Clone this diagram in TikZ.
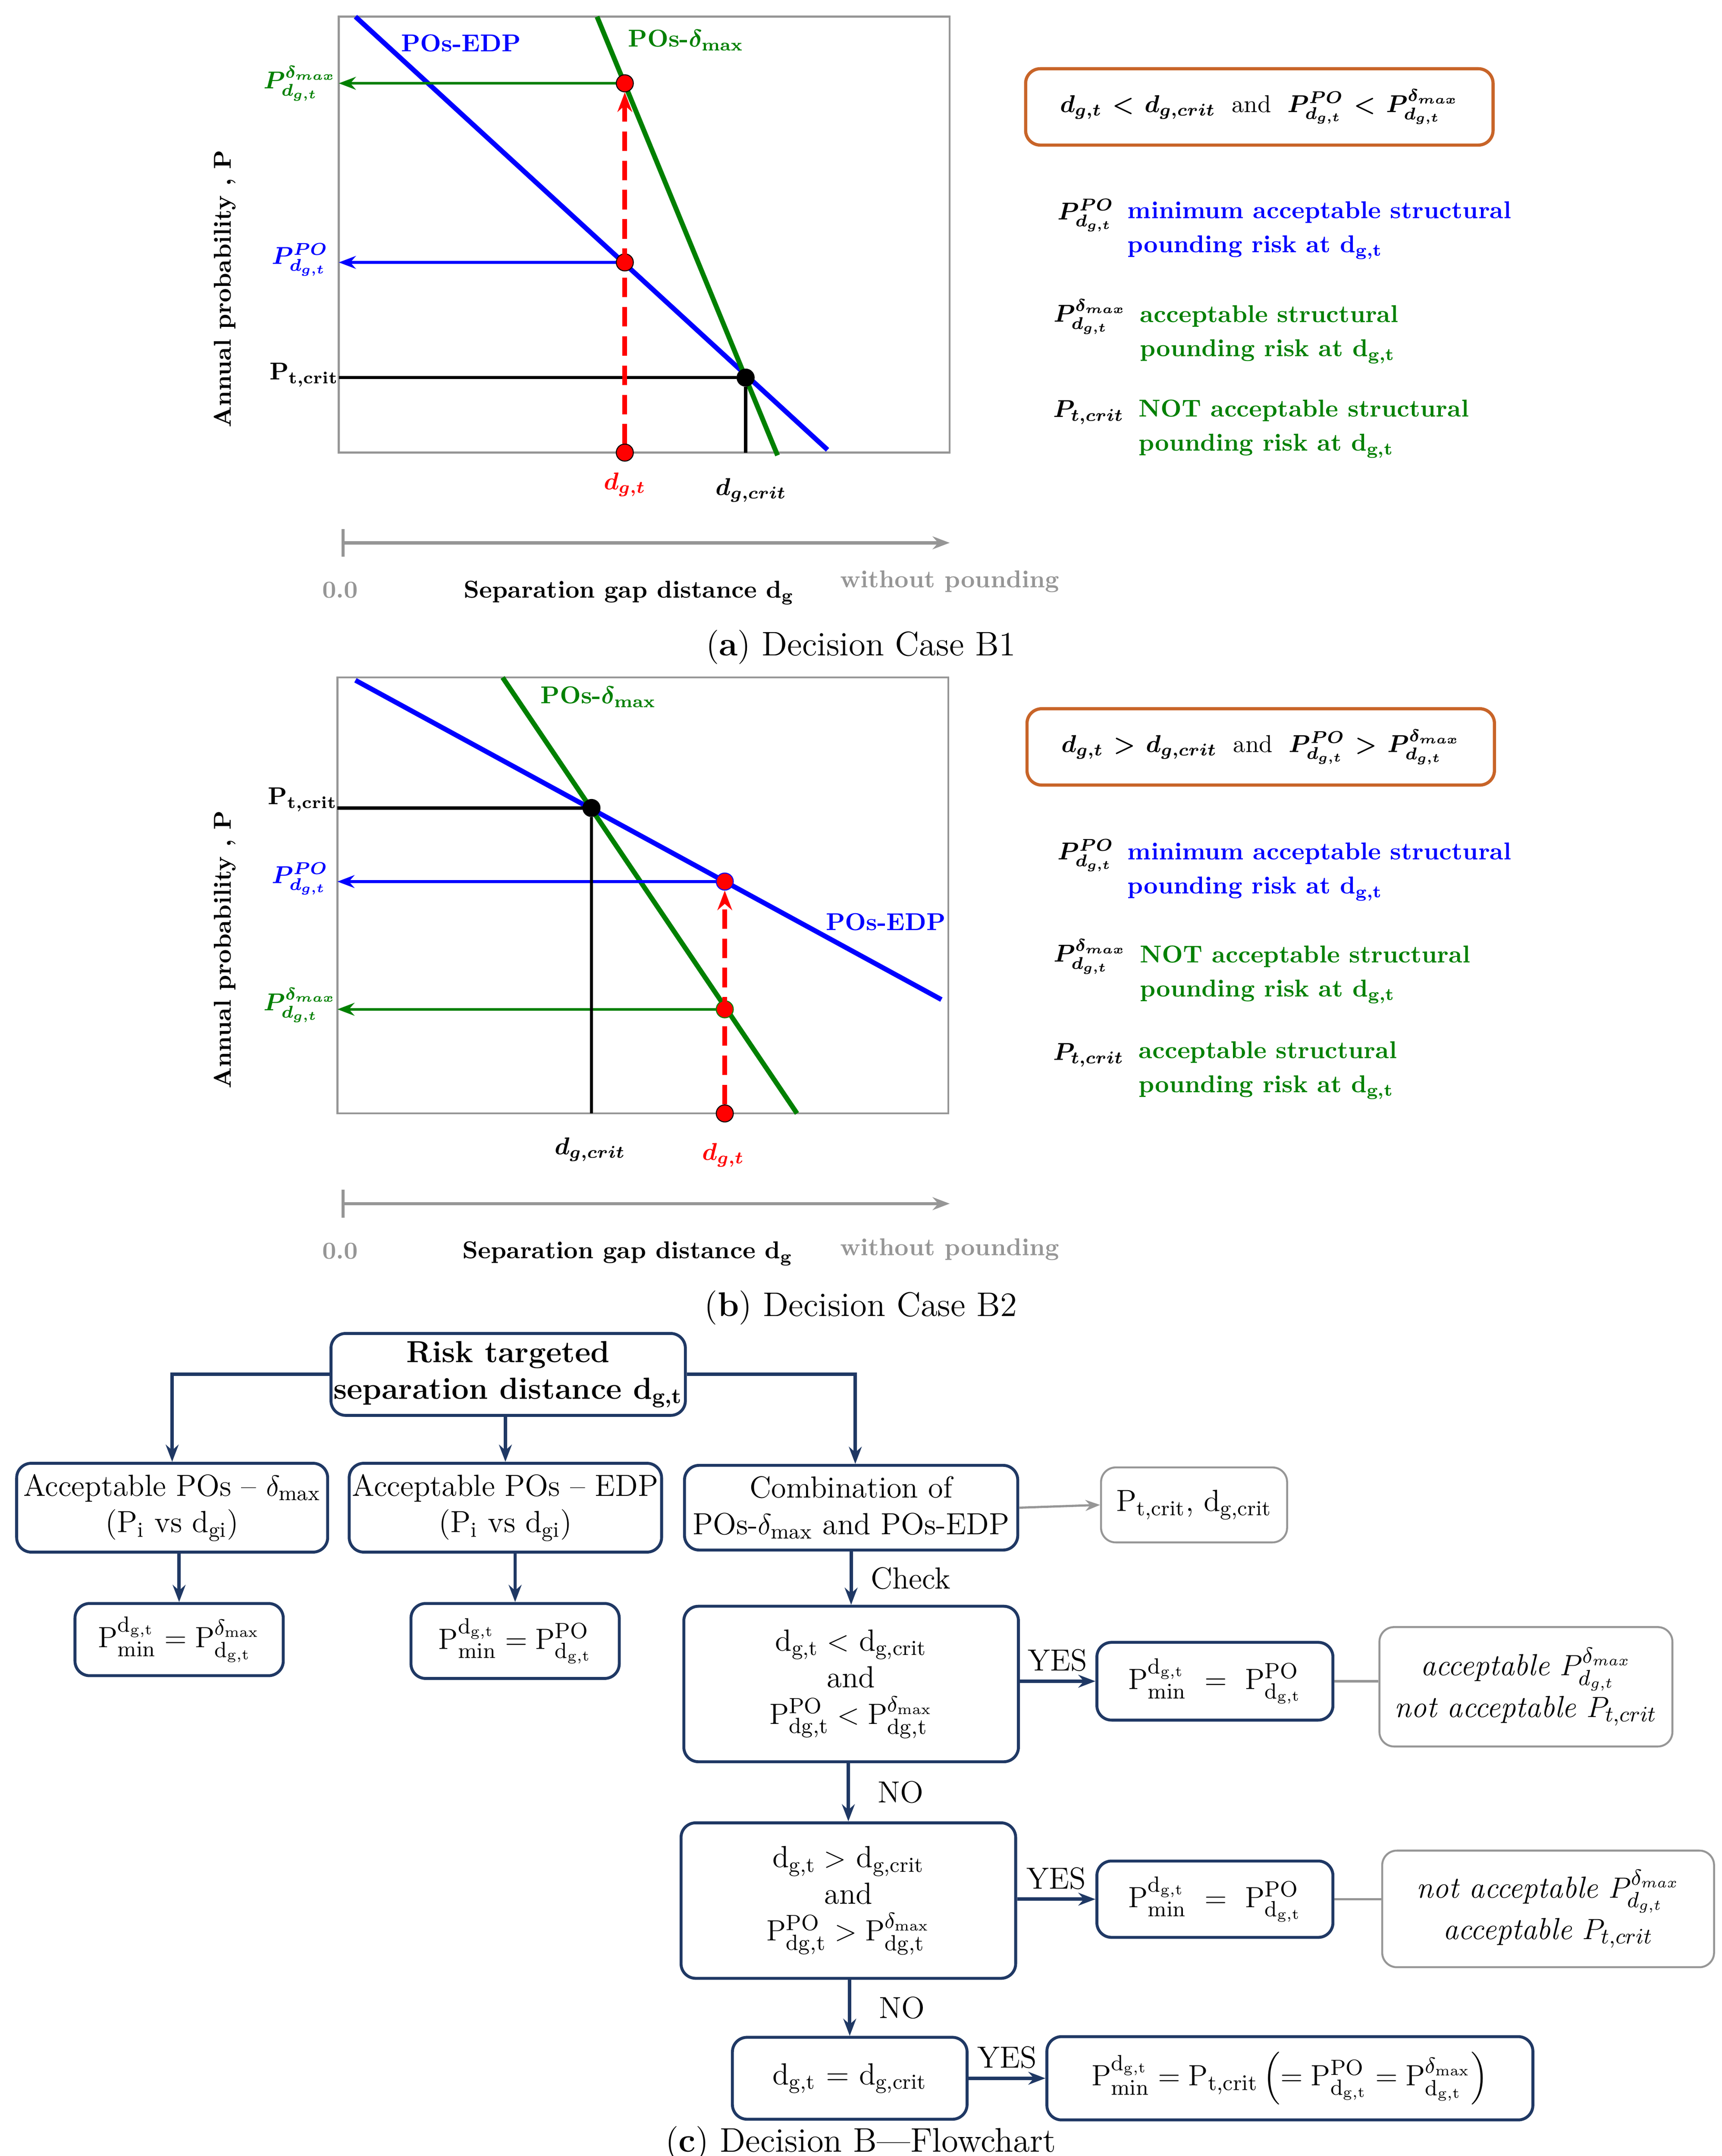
\documentclass[tikz,border=0pt]{standalone}
\usepackage{amsmath,bm}
\usetikzlibrary{arrows.meta}
\definecolor{pblue}{RGB}{0,0,255}
\definecolor{pgreen}{RGB}{0,128,0}
\definecolor{pred}{RGB}{255,0,0}
\definecolor{navy}{RGB}{31,56,100}
\definecolor{orng}{RGB}{200,100,40}
\definecolor{lgray}{RGB}{150,150,150}
\tikzset{
  curve/.style={line width=2pt},
  harrow/.style={line width=1.1pt,-{Stealth[length=7pt]}},
  dot/.style={circle,draw=black,inner sep=0pt,minimum size=7pt},
  lab/.style={font=\fontsize{10}{12}\selectfont\bfseries},
  captxt/.style={font=\fontsize{14}{16}\selectfont},
  fbox/.style={draw=navy,line width=1.2pt,rounded corners=6pt,align=center,font=\fontsize{12.5}{15}\selectfont,inner sep=1pt},
  gbox/.style={draw=lgray,line width=0.8pt,rounded corners=6pt,align=center,font=\fontsize{12.5}{15}\selectfont,inner sep=1pt},
  flow/.style={draw=navy,line width=1.4pt,-{Stealth[length=7pt]}},
  ftxt/.style={font=\fontsize{12.5}{15}\selectfont},
  rdash/.style={pred,line width=2pt,dash pattern=on 8pt off 4pt,-{Stealth[length=8pt]}}
}
\begin{document}
\begin{tikzpicture}[x=0.02cm,y=-0.02cm]
\useasboundingbox (0,0) rectangle (1240,1553);
% ---------------- panel (a)
\draw[lgray,line width=0.8pt] (244,12) rectangle (684,326);
\coordinate (a1) at (256,12); \coordinate (a2) at (596,324);
\coordinate (g1) at (430,12); \coordinate (g2) at (560,328);
\draw[pblue,curve] (a1) -- (a2);
\draw[pgreen,curve] (g1) -- (g2);
\coordinate (aL1) at (244,60); \coordinate (aL2) at (244,189); \coordinate (aL3) at (244,272);
\coordinate (aB) at (537,326);
\node[dot,fill=black] (ax) at (537,272) {};
\node[dot,fill=pred] (ag) at (450,60) {};
\node[dot,fill=pred] (ab) at (450,189) {};
\node[dot,fill=pred] (ar) at (450,326) {};
\draw[pgreen,harrow] (ag) -- (aL1);
\draw[pblue,harrow] (ab) -- (aL2);
\draw[black,line width=1.3pt] (aL3) -- (ax) -- (aB);
\draw[rdash] (ar) -- (ag);
\node[lab,pblue] at (332,31) {POs-EDP};
\node[lab,pgreen] at (494,29) {POs-$\bm{\delta}_{\mathbf{max}}$};
\node[lab,pgreen] at (216,60) {$\bm{P^{\delta_{max}}_{d_{g,t}}}$};
\node[lab,pblue] at (216,187) {$\bm{P^{PO}_{d_{g,t}}}$};
\node[lab] at (219,270) {P$_{\text{t,crit}}$};
\node[lab,pred] at (450,349) {$\bm{d_{g,t}}$};
\node[lab] at (541,353) {$\bm{d_{g,crit}}$};
\node[lab,rotate=90] at (162,208) {Annual probability , P};
\coordinate (ax0) at (247,391); \coordinate (ax1) at (684,391);
\draw[lgray,line width=1.3pt,-{Stealth[length=7pt]}] (ax0) -- (ax1);
\draw[lgray,line width=1.3pt] (247,381) -- (247,401);
\node[lab,lgray] at (245,425) {0.0};
\node[lab] at (453,427) {Separation gap distance d$_{\text{g}}$};
\node[lab,lgray] at (684,419) {without pounding};
\node[captxt] at (620,466) {(\textbf{a}) Decision Case B1};
\node[draw=orng,line width=1.3pt,rounded corners=6pt,lab,minimum height=1.1cm,text width=6.5cm,align=center] (ka) at (907,77)
  {$\bm{d_{g,t}<d_{g,crit}}$ \ \mdseries and \ $\bm{P^{PO}_{d_{g,t}}<P^{\delta_{max}}_{d_{g,t}}}$};
\node[lab] at (782,155) {$\bm{P^{PO}_{d_{g,t}}}$};
\node[lab,pblue,anchor=west,align=left] at (806,166) {minimum acceptable structural\\[2pt] pounding risk at d$_{\text{g,t}}$};
\node[lab] at (785,228) {$\bm{P^{\delta_{max}}_{d_{g,t}}}$};
\node[lab,pgreen,anchor=west,align=left] at (815,241) {acceptable structural\\[2pt] pounding risk at d$_{\text{g,t}}$};
\node[lab] at (784,297) {$\bm{P_{t,crit}}$};
\node[lab,pgreen,anchor=west,align=left] at (814,309) {NOT acceptable structural\\[2pt] pounding risk at d$_{\text{g,t}}$};
% ---------------- panel (b)
\draw[lgray,line width=0.8pt] (243,488) rectangle (683,802);
\coordinate (b1) at (256,490); \coordinate (b2) at (678,720);
\coordinate (h1) at (362,488); \coordinate (h2) at (574,802);
\draw[pblue,curve] (b1) -- (b2);
\draw[pgreen,curve] (h1) -- (h2);
\coordinate (bL1) at (243,582); \coordinate (bL2) at (243,635); \coordinate (bL3) at (243,727);
\coordinate (bB) at (426,802);
\node[dot,fill=black] (bx) at (426,582) {};
\node[dot,fill=pred,draw=pblue] (bb) at (522,635) {};
\node[dot,fill=pred,draw=pgreen] (bg) at (522,727) {};
\node[dot,fill=pred] (br) at (522,802) {};
\draw[pblue,harrow] (bb) -- (bL2);
\draw[pgreen,harrow] (bg) -- (bL3);
\draw[black,line width=1.3pt] (bL1) -- (bx) -- (bB);
\draw[rdash] (br) -- (bb);
\node[lab,pgreen] at (431,502) {POs-$\bm{\delta}_{\mathbf{max}}$};
\node[lab,pblue] at (638,664) {POs-EDP};
\node[lab] at (218,576) {P$_{\text{t,crit}}$};
\node[lab,pblue] at (216,633) {$\bm{P^{PO}_{d_{g,t}}}$};
\node[lab,pgreen] at (216,724) {$\bm{P^{\delta_{max}}_{d_{g,t}}}$};
\node[lab] at (425,828) {$\bm{d_{g,crit}}$};
\node[lab,pred] at (521,832) {$\bm{d_{g,t}}$};
\node[lab,rotate=90] at (162,684) {Annual probability , P};
\coordinate (bx0) at (247,867); \coordinate (bx1) at (684,867);
\draw[lgray,line width=1.3pt,-{Stealth[length=7pt]}] (bx0) -- (bx1);
\draw[lgray,line width=1.3pt] (247,857) -- (247,877);
\node[lab,lgray] at (245,901) {0.0};
\node[lab] at (452,903) {Separation gap distance d$_{\text{g}}$};
\node[lab,lgray] at (684,900) {without pounding};
\node[captxt] at (620,942) {(\textbf{b}) Decision Case B2};
\node[draw=orng,line width=1.3pt,rounded corners=6pt,lab,minimum height=1.1cm,text width=6.5cm,align=center] (kb) at (908,538)
  {$\bm{d_{g,t}>d_{g,crit}}$ \ \mdseries and \ $\bm{P^{PO}_{d_{g,t}}>P^{\delta_{max}}_{d_{g,t}}}$};
\node[lab] at (782,616) {$\bm{P^{PO}_{d_{g,t}}}$};
\node[lab,pblue,anchor=west,align=left] at (806,628) {minimum acceptable structural\\[2pt] pounding risk at d$_{\text{g,t}}$};
\node[lab] at (785,689) {$\bm{P^{\delta_{max}}_{d_{g,t}}}$};
\node[lab,pgreen,anchor=west,align=left] at (815,702) {NOT acceptable structural\\[2pt] pounding risk at d$_{\text{g,t}}$};
\node[lab] at (784,760) {$\bm{P_{t,crit}}$};
\node[lab,pgreen,anchor=west,align=left] at (814,771) {acceptable structural\\[2pt] pounding risk at d$_{\text{g,t}}$};
% ---------------- panel (c) flowchart
\node[fbox,minimum width=251*0.02cm,minimum height=59*0.02cm,font=\fontsize{12.5}{15}\selectfont\bfseries] (top) at (366,990) {Risk targeted\\ separation distance d$_{\text{g,t}}$};
\node[fbox,minimum width=224*0.02cm,minimum height=64*0.02cm] (A1) at (124,1086) {Acceptable POs -- $\delta_{\text{max}}$\\ (P$_{\text{i}}$ vs d$_{\text{gi}}$)};
\node[fbox,minimum width=225*0.02cm,minimum height=64*0.02cm] (A2) at (364,1086) {Acceptable POs -- EDP\\ (P$_{\text{i}}$ vs d$_{\text{gi}}$)};
\node[fbox,minimum width=240*0.02cm,minimum height=61*0.02cm] (A3) at (613,1086) {Combination of\\ POs-$\delta_{\text{max}}$ and POs-EDP};
\node[gbox,minimum width=134*0.02cm,minimum height=54*0.02cm] (P) at (860,1084) {P$_{\text{t,crit}}$, d$_{\text{g,crit}}$};
\node[fbox,minimum width=150*0.02cm,minimum height=52*0.02cm] (B1) at (129,1181) {$\mathrm{P}^{\mathrm{d_{g,t}}}_{\mathrm{min}}=\mathrm{P}^{\delta_{\mathrm{max}}}_{\mathrm{d_{g,t}}}$};
\node[fbox,minimum width=150*0.02cm,minimum height=54*0.02cm] (B2) at (371,1182) {$\mathrm{P}^{\mathrm{d_{g,t}}}_{\mathrm{min}}=\mathrm{P}^{\mathrm{PO}}_{\mathrm{d_{g,t}}}$};
\node[fbox,minimum width=241*0.02cm,minimum height=112*0.02cm] (C1) at (613,1213) {d$_{\text{g,t}}<$ d$_{\text{g,crit}}$\\ and\\ $\mathrm{P}^{\mathrm{PO}}_{\mathrm{dg,t}}<\mathrm{P}^{\delta_{\mathrm{max}}}_{\mathrm{dg,t}}$};
\node[fbox,minimum width=170*0.02cm,minimum height=56*0.02cm] (D1) at (875,1211) {$\mathrm{P}^{\mathrm{d_{g,t}}}_{\mathrm{min}}\ =\ \mathrm{P}^{\mathrm{PO}}_{\mathrm{d_{g,t}}}$};
\node[gbox,minimum width=211*0.02cm,minimum height=86*0.02cm] (E1) at (1099,1215) {\itshape acceptable $P^{\delta_{max}}_{d_{g,t}}$\\[2pt] \itshape not acceptable $P_{t,crit}$};
\node[fbox,minimum width=241*0.02cm,minimum height=112*0.02cm] (C2) at (611,1369) {d$_{\text{g,t}}>$ d$_{\text{g,crit}}$\\ and\\ $\mathrm{P}^{\mathrm{PO}}_{\mathrm{dg,t}}>\mathrm{P}^{\delta_{\mathrm{max}}}_{\mathrm{dg,t}}$};
\node[fbox,minimum width=170*0.02cm,minimum height=55*0.02cm] (D2) at (875,1368) {$\mathrm{P}^{\mathrm{d_{g,t}}}_{\mathrm{min}}\ =\ \mathrm{P}^{\mathrm{PO}}_{\mathrm{d_{g,t}}}$};
\node[gbox,minimum width=239*0.02cm,minimum height=84*0.02cm] (E2) at (1115,1375) {\itshape not acceptable $P^{\delta_{max}}_{d_{g,t}}$\\[2pt] \itshape acceptable $P_{t,crit}$};
\node[fbox,minimum width=169*0.02cm,minimum height=59*0.02cm] (C3) at (612,1497) {d$_{\text{g,t}}$ = d$_{\text{g,crit}}$};
\node[fbox,minimum width=350*0.02cm,minimum height=60*0.02cm] (D3) at (929,1497) {$\mathrm{P}^{\mathrm{d_{g,t}}}_{\mathrm{min}}=\mathrm{P}_{\mathrm{t,crit}}\left(=\mathrm{P}^{\mathrm{PO}}_{\mathrm{d_{g,t}}}=\mathrm{P}^{\delta_{\mathrm{max}}}_{\mathrm{d_{g,t}}}\right)$};
\draw[flow] (top.west) -| (A1.north);
\draw[flow] (top.east) -| ([xshift=3*0.02cm]A3.north);
\draw[flow] (top.south -| A2.north) -- (A2.north);
\draw[flow] (A1.south -| B1.north) -- (B1.north);
\draw[flow] (A2.south -| B2.north) -- (B2.north);
\draw[lgray,line width=0.9pt,-{Stealth[length=6pt]}] (A3.east) -- (P.west);
\draw[flow] (A3.south -| C1.north) -- node[ftxt,right=4pt] {Check} (C1.north);
\draw[flow] (C1.east |- D1.west) -- node[ftxt,above] {YES} (D1.west);
\draw[lgray,line width=0.9pt] (D1.east) -- (E1.west |- D1.east);
\draw[flow] (C1.south -| C2.north) -- node[ftxt,right=8pt] {NO} (C2.north);
\draw[flow] (C2.east |- D2.west) -- node[ftxt,above] {YES} (D2.west);
\draw[lgray,line width=0.9pt] (D2.east) -- (E2.west |- D2.east);
\draw[flow] (C2.south -| C3.north) -- node[ftxt,right=8pt] {NO} (C3.north);
\draw[flow] (C3.east) -- node[ftxt,above] {YES} (D3.west);
\node[captxt] at (620,1544) {(\textbf{c}) Decision B---Flowchart};
\end{tikzpicture}
\end{document}
